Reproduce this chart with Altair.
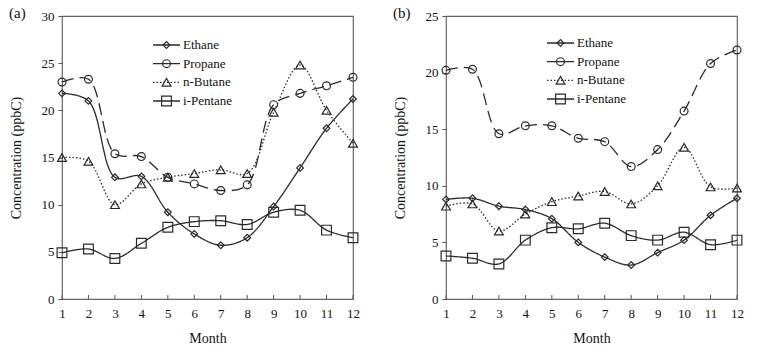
import altair as alt
import pandas as pd

months = list(range(1, 13))
series = ["Ethane", "Propane", "n-Butane", "i-Pentane"]
panel_labels = ["(a)", "(b)"]

a_ethane = [21.8, 21.0, 12.9, 13.0, 9.2, 6.9, 5.7, 6.5, 9.8, 13.9, 18.1, 21.2]
a_propane = [23.0, 23.3, 15.4, 15.1, 12.9, 12.2, 11.5, 12.1, 20.6, 21.8, 22.6, 23.5]
a_butane = [15.0, 14.6, 10.0, 12.2, 12.9, 13.3, 13.7, 13.3, 19.8, 24.8, 20.0, 16.5]
a_pentane = [4.9, 5.3, 4.3, 5.9, 7.6, 8.2, 8.3, 7.9, 9.2, 9.4, 7.3, 6.5]

b_ethane = [8.8, 8.9, 8.2, 7.9, 7.1, 5.0, 3.7, 3.0, 4.1, 5.2, 7.4, 8.9]
b_propane = [20.2, 20.3, 14.6, 15.3, 15.3, 14.2, 13.9, 11.7, 13.2, 16.6, 20.8, 22.0]
b_butane = [8.2, 8.4, 6.0, 7.5, 8.6, 9.1, 9.5, 8.4, 10.0, 13.4, 9.9, 9.8]
b_pentane = [3.8, 3.6, 3.1, 5.2, 6.3, 6.2, 6.7, 5.6, 5.2, 5.9, 4.8, 5.2]

y_max_a, y_max_b = 30, 25

INK = "#2a2a2a"
FONT = "Liberation Serif"
W, H = 291, 283

shape_scale = alt.Scale(domain=series, range=["diamond", "circle", "triangle-up", "square"])
size_scale = alt.Scale(domain=series, range=[45, 95, 75, 80])
dash_data = alt.Scale(domain=series, range=[[1, 0], [12, 6], [1.5, 2], [1, 0]])
dash_leg = alt.Scale(domain=series, range=[[1, 0], [1, 0], [1.5, 2], [1, 0]])


def panel(vals, ymax, label, leg_x0, leg_range):
    rows = []
    for s, v in zip(series, vals):
        for m, y in zip(months, v):
            rows.append({"month": m, "value": y, "series": s})
    df = pd.DataFrame(rows)
    xaxis = alt.Axis(values=months, title="Month", ticks=False, domain=False,
                     grid=False, labelPadding=8, titlePadding=11, format="d",
                     labelOverlap=False, labelFlush=False)
    xs = alt.X("month:Q", scale=alt.Scale(domain=[1, 12], nice=False, zero=False), axis=xaxis)
    ys = alt.Y("value:Q", scale=alt.Scale(domain=[0, ymax], nice=False),
               axis=alt.Axis(values=list(range(0, ymax + 1, 5)), title="Concentration (ppbC)",
                             tickSize=4, labelPadding=4, domain=False, grid=False,
                             titlePadding=18, labelOverlap=False, labelFlush=False))
    base = alt.Chart(df)
    line = base.mark_line(interpolate="catmull-rom", color=INK, strokeWidth=1.3).encode(
        x=xs, y=ys, detail="series:N",
        strokeDash=alt.StrokeDash("series:N", scale=dash_data, legend=None),
    )
    pts = base.mark_point(filled=False, color=INK, strokeWidth=1.2, opacity=1).encode(
        x=xs, y=ys,
        shape=alt.Shape("series:N", scale=shape_scale, legend=None),
        size=alt.Size("series:N", scale=size_scale, legend=None),
    )
    ticks = alt.Chart(pd.DataFrame({"month": months})).mark_rule(color="#555", strokeWidth=1).encode(
        x=alt.X("month:Q", axis=xaxis), y=alt.value(H), y2=alt.value(H - 4)
    )
    lab = alt.Chart(pd.DataFrame({"label": [label]})).mark_text(
        font=FONT, fontSize=15, align="left", baseline="middle", color="#111"
    ).encode(x=alt.value(-53), y=alt.value(-3), text="label:N")
    data_layer = alt.layer(line, pts, ticks, lab)

    ldf = pd.DataFrame({"series": series})
    ly = alt.Y("series:N", sort=series,
               scale=alt.Scale(type="point", domain=series, range=leg_range, padding=0), axis=None)
    lb = alt.Chart(ldf)
    lrule = lb.mark_rule(color=INK, strokeWidth=1.3).encode(
        x=alt.value(leg_x0), x2=alt.value(leg_x0 + 27), y=ly,
        strokeDash=alt.StrokeDash("series:N", scale=dash_leg, legend=None),
    )
    lpt = lb.mark_point(filled=False, color=INK, strokeWidth=1.2, opacity=1).encode(
        x=alt.value(leg_x0 + 13.5), y=ly,
        shape=alt.Shape("series:N", scale=shape_scale, legend=None),
        size=alt.Size("series:N", scale=size_scale, legend=None),
    )
    ltxt = lb.mark_text(font=FONT, fontSize=13, align="left", baseline="middle", color="#111").encode(
        x=alt.value(leg_x0 + 30), y=ly, text="series:N"
    )
    leg_layer = alt.layer(lrule, lpt, ltxt)
    return alt.layer(data_layer, leg_layer).resolve_scale(
        y="independent", strokeDash="independent"
    ).properties(width=W, height=H)


pa = panel([a_ethane, a_propane, a_butane, a_pentane], y_max_a, panel_labels[0], 91, [29, 85])
pb = panel([b_ethane, b_propane, b_butane, b_pentane], y_max_b, panel_labels[1], 101, [27, 83])

chart = alt.hconcat(pa, pb, spacing=31).properties(
    padding={"left": 8, "top": 5, "right": 5, "bottom": 5}
).configure(font=FONT).configure_axis(
    labelFont=FONT, titleFont=FONT, labelFontSize=13, titleFontSize=14,
    titleFontWeight="normal", labelColor="#111", titleColor="#111", tickColor="#555",
).configure_view(stroke="#666", strokeWidth=1.2)

chart.save("out.html", embed_options={"renderer": "svg", "actions": False})
